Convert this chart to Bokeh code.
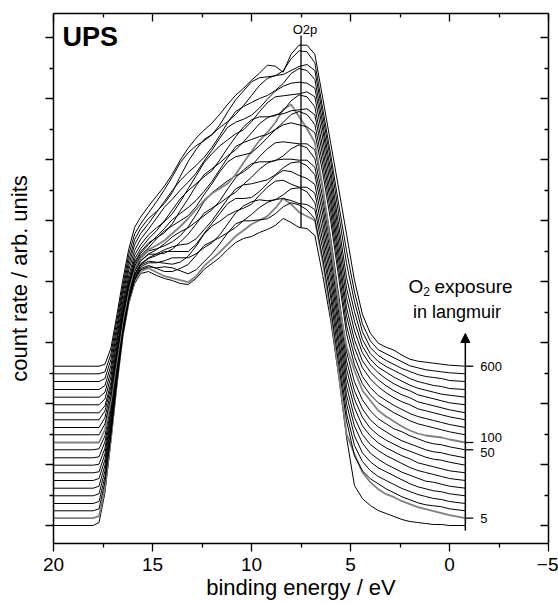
import numpy as np
from bokeh.plotting import figure
from bokeh.models import (Range1d, LinearAxis, FixedTicker, CustomJSTickFormatter,
                          Label, Arrow, NormalHead)
from bokeh.embed import file_html
from bokeh.resources import INLINE

# binding energy grid (eV)
energy = [20.0, 18.0, 17.7, 17.4, 17.1, 16.8, 16.5, 16.2, 15.9, 15.6,
          15.2, 14.8, 14.4, 14.0, 13.6, 13.2, 12.8, 12.4, 12.0, 11.6, 11.2,
          10.8, 10.4, 10.0, 9.6, 9.2, 8.8, 8.4, 8.0, 7.6, 7.2,
          6.8, 6.4, 6.0, 5.6, 5.2,
          4.8, 4.4, 4.0, 3.6, 3.2, 2.8, 2.4, 2.0, 1.6, 1.2, 0.8, 0.4, 0.0, -0.8]

# spectra (count rate above each curve's own baseline, arb. units), bottom to top
c00 = [0,0, 3,33,84,140,189,222,242,252, 254,250,247,245,242,241,247,256,262,268,276,283,287,289,293,296,300,307,303,298,297, 290,250,205,150,88, 40,27,20,15,12,9,6,4,3,2,1,1,0,0]
c01 = [0,0, 2,31,80,135,183,216,237,247, 250,246,242,240,238,236,242,252,259,266,274,282,288,294,298,302,310,320,314,306,302, 298,256,205,145,84, 64,46,36,29,24,21,17,14,11,9,7,5,3,0]
c02 = [0,0, 2,29,76,129,176,210,231,241, 244,243,244,243,240,237,241,249,257,267,278,287,290,290,291,292,297,304,308,306,301, 292,252,203,147,90, 55,40,32,27,22,18,14,11,8,6,5,4,2,0]
c03 = [0,0, 2,27,71,123,170,203,224,235, 238,235,232,232,235,239,248,258,262,266,271,276,283,289,296,301,304,305,303,300,299, 294,254,206,148,90, 58,42,33,27,23,19,15,12,9,7,5,4,2,0]
c04 = [0,0, 2,25,67,118,164,197,218,229, 233,233,235,238,238,238,242,248,253,261,272,283,290,294,296,295,296,301,307,308,304, 293,255,205,150,92, 60,43,34,28,24,20,16,12,9,7,5,4,2,0]
c05 = [0,0, 2,23,63,112,158,191,212,223, 227,226,225,224,226,232,242,254,262,267,273,277,280,284,293,301,307,308,304,301,301, 295,256,207,150,93, 62,45,35,29,24,20,16,13,10,7,6,4,2,0]
c06 = [0,0, 2,21,59,107,152,184,206,216, 222,225,229,229,229,229,236,247,257,267,277,282,282,283,289,297,305,310,309,305,302, 296,257,208,152,94, 63,46,36,30,25,21,17,13,10,8,6,4,2,0]
c07 = [0,0, 1,19,55,102,145,177,199,209, 215,219,223,226,228,229,234,243,252,263,274,284,288,289,291,293,298,305,310,311,307, 298,258,209,152,95, 65,47,37,30,25,21,17,14,10,8,6,4,2,0]
c08 = [0,0, 1,17,52,97,140,172,194,204, 211,211,212,216,223,231,241,252,257,262,268,273,281,288,296,302,305,306,306,305,305, 298,259,210,153,96, 66,48,37,30,25,21,17,14,11,8,6,5,3,0]
c09 = [0,0, 1,16,48,92,133,165,187,197, 204,208,214,221,226,230,236,242,248,257,269,280,288,294,296,296,297,302,309,313,310, 299,260,211,154,97, 67,49,38,31,26,21,17,14,11,8,6,5,3,0]
c10 = [0,0, 1,14,45,87,128,159,181,191, 199,201,204,208,214,223,235,248,257,263,269,274,278,284,293,301,307,308,307,306,306, 300,261,212,155,98, 68,50,39,31,26,21,18,14,11,8,6,5,3,0]
c11 = [0,0, 0,13,42,82,122,153,175,185, 193,197,202,209,216,224,233,242,249,254,259,268,280,291,302,310,320,333,338,326,314, 300,255,200,140,96, 72,52,42,32,26,21,16,12,9,7,6,5,3,0]
c12 = [0,0, 0,11,38,78,117,148,169,179, 187,196,204,209,214,219,228,240,251,263,273,278,280,282,289,297,305,310,312,310,308, 302,262,214,158,101, 70,51,40,32,27,22,18,14,11,9,7,5,3,0]
c13 = [0,0, 0,10,36,74,112,143,164,174, 183,191,199,208,214,220,227,236,246,258,270,281,285,288,291,293,298,305,313,316,313, 303,263,215,159,102, 71,51,40,32,27,22,18,14,11,9,7,5,3,0]
c14 = [0,0, 0,9,33,69,107,137,158,168, 177,182,187,196,209,221,234,245,251,257,264,270,278,287,296,302,305,306,309,310,311, 305,264,216,160,104, 72,52,41,33,27,22,18,15,11,9,7,5,3,0]
c15 = [0,0, 0,7,30,66,103,133,154,164, 174,182,192,203,214,222,229,236,242,253,265,276,286,293,296,296,297,302,312,318,316, 306,265,217,161,105, 73,52,41,33,27,22,18,15,11,9,7,5,3,0]
c16 = [0,0, 0,6,28,63,99,129,150,160, 170,177,183,191,203,216,229,242,251,259,265,271,275,283,293,302,308,309,310,311,313, 308,266,218,162,107, 74,52,40,32,26,21,17,14,10,8,6,4,2,0]
c17 = [0,0, 0,5,26,60,96,127,147,158, 168,179,190,198,207,215,224,236,247,259,270,275,278,282,289,298,306,311,314,315,314, 309,267,219,164,109, 76,51,38,30,25,20,16,12,9,7,5,3,2,0]
c18 = [0,0, 0,4,24,58,94,124,145,156, 166,177,188,199,209,217,224,232,242,254,267,278,283,287,291,294,299,306,316,321,319, 310,266,219,165,112, 78,50,36,28,23,19,15,11,8,6,4,3,1,0]
c19 = [0,0, 0,3,22,55,91,121,142,153, 163,170,178,189,205,220,232,242,247,254,260,267,276,286,296,303,306,307,311,315,317, 311,266,220,168,118, 80,50,34,26,21,17,13,10,7,5,4,3,1,0]
c20 = [0,0, 0,2,20,53,88,119,140,150, 161,172,184,197,211,221,228,233,239,249,262,274,283,292,296,297,298,303,315,323,322, 311,265,219,170,123, 82,50,33,24,20,16,12,8,6,4,3,2,1,0]
c21 = [0,0, 0,2,18,51,86,117,139,149, 160,170,180,192,206,218,228,236,243,252,262,271,278,286,293,301,300,294,312,321,321, 312,268,223,178,132, 86,52,33,23,19,16,11,7,5,4,3,2,1,0]

curves = [c00, c01, c02, c03, c04, c05, c06, c07, c08, c09, c10,
          c11, c12, c13, c14, c15, c16, c17, c18, c19, c20, c21]

# waterfall offsets of each spectrum
offset = [0, 7.3, 14.7, 22, 29.7, 37.3, 45, 52.7, 60.3, 67.7, 75.7,
          83, 90.7, 98, 105.7, 112.7, 120.7, 128.3, 136, 144, 151.7, 159.3]
gray_curves = [1, 11]

# O2 exposure marks (langmuir) and the spectrum they belong to
exposure_labels = ["600", "100", "50", "5"]
exposure_curve = [21, 11, 10, 1]
exposure_label_shift = [0, 5, -2.5, 0]

o2p_energy = 7.5
o2p_span = [298, 490]

FONT = "Liberation Sans"

p = figure(width=558, height=604, x_range=Range1d(20, -5), y_range=Range1d(-18, 512),
           output_backend="svg", toolbar_location=None,
           min_border_left=53, min_border_right=10, min_border_top=13, min_border_bottom=61,
           background_fill_color="white", border_fill_color="white")
p.outline_line_color = None
p.xgrid.visible = False
p.ygrid.visible = False

xticker = FixedTicker(ticks=[20, 15, 10, 5, 0, -5], minor_ticks=[17.5, 12.5, 7.5, 2.5, -2.5])
yticker = FixedTicker(ticks=[61 * k for k in range(9)],
                      minor_ticks=[30.5 + 61 * k for k in range(8)])
empty = CustomJSTickFormatter(code="return ''")


def style_axis(ax, inward):
    ax.axis_line_width = 1.5
    ax.axis_line_color = "black"
    ax.major_tick_line_width = 1.3
    ax.minor_tick_line_width = 1.3
    ax.major_tick_line_color = "black"
    ax.minor_tick_line_color = "black"
    if inward:
        ax.major_tick_in, ax.major_tick_out = 8, 0
        ax.minor_tick_in, ax.minor_tick_out = 4, 0
    else:
        ax.major_tick_in, ax.major_tick_out = 0, 8
        ax.minor_tick_in, ax.minor_tick_out = 0, 4


xa = p.xaxis[0]
xa.ticker = xticker
style_axis(xa, False)
xa.major_label_text_font = FONT
xa.major_label_text_font_size = "19px"
xa.major_label_text_color = "black"
xa.major_label_standoff = 6
xa.axis_label = "binding energy / eV"
xa.axis_label_text_font = FONT
xa.axis_label_text_font_size = "22px"
xa.axis_label_text_font_style = "normal"
xa.axis_label_text_color = "black"
xa.axis_label_standoff = 1

ya = p.yaxis[0]
ya.ticker = yticker
ya.formatter = empty
style_axis(ya, False)
ya.major_label_text_font_size = "0px"
ya.major_label_standoff = 0
ya.axis_label = "count rate / arb. units"
ya.axis_label_text_font = FONT
ya.axis_label_text_font_size = "22px"
ya.axis_label_text_font_style = "normal"
ya.axis_label_text_color = "black"
ya.axis_label_standoff = 14

top = LinearAxis(ticker=xticker, formatter=empty, major_label_text_font_size="0px",
                 major_label_standoff=0)
style_axis(top, True)
p.add_layout(top, "above")
right = LinearAxis(ticker=yticker, formatter=empty, major_label_text_font_size="0px",
                   major_label_standoff=0)
style_axis(right, True)
p.add_layout(right, "right")

# spectra
for i, h in enumerate(curves):
    y = offset[i] + np.array(h, dtype=float)
    if i in gray_curves:
        p.line(energy, y, line_color="#808080", line_width=1.8)
    else:
        p.line(energy, y, line_color="black", line_width=1.0)

# O2p marker line
p.line([o2p_energy, o2p_energy], o2p_span, line_color="black", line_width=1.3)
p.add_layout(Label(x=o2p_energy, y=o2p_span[1] + 6, text="O2p", text_font=FONT,
                   text_font_size="13px", text_align="center", text_baseline="alphabetic",
                   x_offset=4, text_color="black"))

# UPS title
p.add_layout(Label(x=19.55, y=489, text="UPS", text_font=FONT, text_font_size="27px",
                   text_font_style="bold", text_baseline="alphabetic", text_color="black"))

# exposure arrow
x_arrow = energy[-1]
p.add_layout(Arrow(end=NormalHead(size=9, fill_color="black", line_color="black", line_width=1),
                   x_start=x_arrow, y_start=-5, x_end=x_arrow, y_end=192,
                   line_color="black", line_width=1.5))
levels = [offset[k] for k in exposure_curve]
p.segment(x0=[x_arrow] * len(levels), y0=levels, x1=[x_arrow - 0.4] * len(levels), y1=levels,
          line_color="black", line_width=1.3)
for lab, k, s in zip(exposure_labels, exposure_curve, exposure_label_shift):
    p.add_layout(Label(x=x_arrow - 0.75, y=offset[k] + s, text=lab, text_font=FONT,
                       text_font_size="13px", text_baseline="middle", text_align="left",
                       text_color="black"))

p.add_layout(Label(x=2.07, y=239, text="O", text_font=FONT, text_font_size="19px",
                   text_baseline="alphabetic", text_color="black"))
p.add_layout(Label(x=1.33, y=234, text="2", text_font=FONT, text_font_size="12px",
                   text_baseline="alphabetic", text_color="black"))
p.add_layout(Label(x=0.76, y=239, text="exposure", text_font=FONT, text_font_size="19px",
                   text_baseline="alphabetic", text_color="black"))
p.add_layout(Label(x=-0.38, y=214, text="in langmuir", text_font=FONT, text_font_size="18px",
                   text_baseline="alphabetic", text_align="center", text_color="black"))

open("out.html", "w").write(file_html(p, INLINE))
